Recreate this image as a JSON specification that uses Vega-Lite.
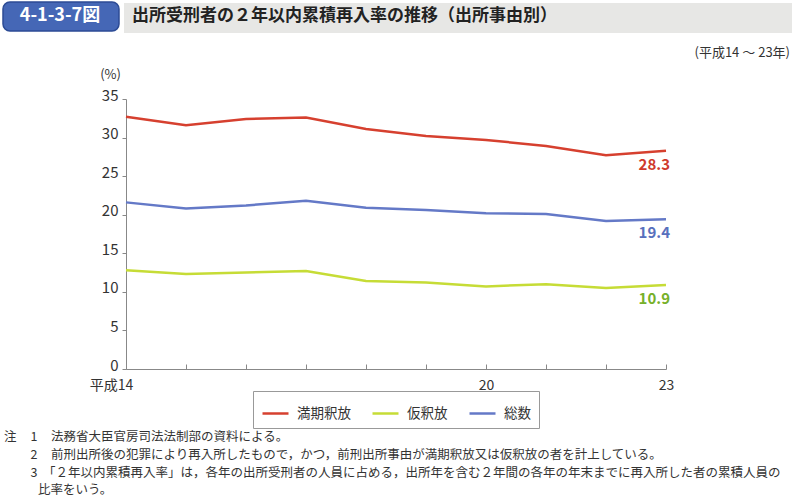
{
  "$schema": "https://vega.github.io/schema/vega-lite/v6.json",
  "width": 540,
  "height": 270,
  "autosize": {"type": "none"},
  "padding": {"left": 126, "top": 99, "right": 126, "bottom": 133},
  "background": "white",
  "config": {"font": "Noto Sans CJK JP", "view": {"stroke": null}},
  "data": {
    "values": [
      {"year": 14, "series": "満期釈放", "value": 32.7},
      {"year": 15, "series": "満期釈放", "value": 31.6},
      {"year": 16, "series": "満期釈放", "value": 32.4},
      {"year": 17, "series": "満期釈放", "value": 32.6},
      {"year": 18, "series": "満期釈放", "value": 31.1},
      {"year": 19, "series": "満期釈放", "value": 30.2},
      {"year": 20, "series": "満期釈放", "value": 29.7},
      {"year": 21, "series": "満期釈放", "value": 28.9},
      {"year": 22, "series": "満期釈放", "value": 27.7},
      {"year": 23, "series": "満期釈放", "value": 28.3},
      {"year": 14, "series": "仮釈放", "value": 12.8},
      {"year": 15, "series": "仮釈放", "value": 12.3},
      {"year": 16, "series": "仮釈放", "value": 12.5},
      {"year": 17, "series": "仮釈放", "value": 12.7},
      {"year": 18, "series": "仮釈放", "value": 11.4},
      {"year": 19, "series": "仮釈放", "value": 11.2},
      {"year": 20, "series": "仮釈放", "value": 10.7},
      {"year": 21, "series": "仮釈放", "value": 11.0},
      {"year": 22, "series": "仮釈放", "value": 10.5},
      {"year": 23, "series": "仮釈放", "value": 10.9},
      {"year": 14, "series": "総数", "value": 21.6},
      {"year": 15, "series": "総数", "value": 20.8},
      {"year": 16, "series": "総数", "value": 21.2},
      {"year": 17, "series": "総数", "value": 21.8},
      {"year": 18, "series": "総数", "value": 20.9},
      {"year": 19, "series": "総数", "value": 20.6},
      {"year": 20, "series": "総数", "value": 20.2},
      {"year": 21, "series": "総数", "value": 20.1},
      {"year": 22, "series": "総数", "value": 19.2},
      {"year": 23, "series": "総数", "value": 19.4}
    ]
  },
  "layer": [
    {
      "data": {"values": [{}]},
      "mark": {"type": "rect", "fill": "#e7e7e5"},
      "encoding": {"x": {"value": -2}, "x2": {"value": 666}, "y": {"value": -96}, "y2": {"value": -66}}
    },
    {
      "data": {"values": [{}]},
      "mark": {"type": "rect", "fill": "#4567b6", "stroke": "#2c4b95", "strokeWidth": 1.5, "cornerRadius": 7},
      "encoding": {"x": {"value": -123}, "x2": {"value": -7}, "y": {"value": -97}, "y2": {"value": -68}}
    },
    {
      "data": {"values": [{}]},
      "mark": {"type": "text", "text": "4-1-3-7図", "fill": "white", "fontSize": 18, "fontWeight": "bold", "align": "center", "baseline": "middle"},
      "encoding": {"x": {"value": -66}, "y": {"value": -83}}
    },
    {
      "data": {"values": [{}]},
      "mark": {"type": "text", "text": "出所受刑者の２年以内累積再入率の推移（出所事由別）", "fill": "#222", "fontSize": 17, "fontWeight": "bold", "align": "left", "baseline": "middle"},
      "encoding": {"x": {"value": 6}, "y": {"value": -83}}
    },
    {
      "data": {"values": [{}]},
      "mark": {"type": "text", "text": "(平成14 ～ 23年)", "fill": "#333", "fontSize": 13, "align": "right", "baseline": "middle"},
      "encoding": {"x": {"value": 664}, "y": {"value": -46}}
    },
    {
      "data": {"values": [{}]},
      "mark": {"type": "text", "text": "注", "fill": "#333", "fontSize": 12.5, "align": "left", "baseline": "middle"},
      "encoding": {"x": {"value": -122}, "y": {"value": 338}}
    },
    {
      "data": {"values": [{}]},
      "mark": {"type": "text", "text": "1", "fill": "#333", "fontSize": 12.5, "align": "center", "baseline": "middle"},
      "encoding": {"x": {"value": -92}, "y": {"value": 338}}
    },
    {
      "data": {"values": [{}]},
      "mark": {"type": "text", "text": "2", "fill": "#333", "fontSize": 12.5, "align": "center", "baseline": "middle"},
      "encoding": {"x": {"value": -92}, "y": {"value": 356}}
    },
    {
      "data": {"values": [{}]},
      "mark": {"type": "text", "text": "3", "fill": "#333", "fontSize": 12.5, "align": "center", "baseline": "middle"},
      "encoding": {"x": {"value": -92}, "y": {"value": 374}}
    },
    {
      "data": {"values": [{}]},
      "mark": {"type": "text", "text": "法務省大臣官房司法法制部の資料による。", "fill": "#333", "fontSize": 12.5, "align": "left", "baseline": "middle"},
      "encoding": {"x": {"value": -75}, "y": {"value": 338}}
    },
    {
      "data": {"values": [{}]},
      "mark": {"type": "text", "text": "前刑出所後の犯罪により再入所したもので，かつ，前刑出所事由が満期釈放又は仮釈放の者を計上している。", "fill": "#333", "fontSize": 12.5, "align": "left", "baseline": "middle"},
      "encoding": {"x": {"value": -75}, "y": {"value": 356}}
    },
    {
      "data": {"values": [{}]},
      "mark": {"type": "text", "text": "「２年以内累積再入率」は，各年の出所受刑者の人員に占める，出所年を含む２年間の各年の年末までに再入所した者の累積人員の", "fill": "#333", "fontSize": 12.5, "align": "left", "baseline": "middle"},
      "encoding": {"x": {"value": -83}, "y": {"value": 374}}
    },
    {
      "data": {"values": [{}]},
      "mark": {"type": "text", "text": "比率をいう。", "fill": "#333", "fontSize": 12.5, "align": "left", "baseline": "middle"},
      "encoding": {"x": {"value": -88}, "y": {"value": 391}}
    },
    {
      "encoding": {
        "x": {
          "field": "year", "type": "quantitative",
          "scale": {"domain": [14, 23], "nice": false, "zero": false},
          "axis": {
            "title": null, "grid": false, "format": "d",
            "values": [14, 15, 16, 17, 18, 19, 20, 21, 22, 23],
            "labelExpr": "datum.value == 14 ? '平成14' : ((datum.value == 20 || datum.value == 23) ? datum.label : '')",
            "labelOffset": {"condition": {"test": "datum.value == 14", "value": -15}, "value": 0},
            "tickSize": -5, "tickColor": "#888", "domainColor": "#888",
            "labelFontSize": 14, "labelColor": "#333", "labelPadding": 14, "labelFlush": false, "labelOverlap": false
          }
        },
        "y": {
          "field": "value", "type": "quantitative",
          "scale": {"domain": [0, 35], "nice": false},
          "axis": {
            "title": "(%)", "titleAngle": 0, "titleAlign": "center", "titleBaseline": "middle",
            "titleX": -16, "titleY": -25, "titleFontSize": 13, "titleFontWeight": "normal", "titleColor": "#333",
            "grid": false, "values": [0, 5, 10, 15, 20, 25, 30, 35], "labelOverlap": false, "labelFlush": false,
            "tickSize": 4, "tickColor": "#888", "domainColor": "#888",
            "labelFontSize": 15, "labelColor": "#333", "labelPadding": 4, "labelOffset": -4
          }
        }
      },
      "layer": [
        {
          "mark": {"type": "line", "strokeWidth": 2.5},
          "encoding": {
            "color": {
              "field": "series", "type": "nominal",
              "scale": {"domain": ["満期釈放", "仮釈放", "総数"], "range": ["#d6402f", "#c6dc36", "#6479c7"]},
              "legend": {
                "orient": "none", "legendX": 127, "legendY": 292, "direction": "horizontal", "title": null,
                "strokeColor": "#999", "fillColor": "white", "padding": 8,
                "symbolType": "stroke", "symbolStrokeWidth": 2.5, "symbolSize": 676,
                "labelFontSize": 13.5, "labelColor": "#333", "labelOffset": 7, "columnPadding": 16
              }
            }
          }
        },
        {
          "transform": [{"filter": "datum.year == 23"}],
          "mark": {"type": "text", "align": "right", "baseline": "middle", "dx": 4, "dy": 14, "fontSize": 15, "fontWeight": "bold"},
          "encoding": {
            "text": {"field": "value", "type": "quantitative", "format": ".1f"},
            "color": {
              "field": "series", "type": "nominal",
              "scale": {"domain": ["満期釈放", "仮釈放", "総数"], "range": ["#cf3a2c", "#76b02a", "#5870bd"]},
              "legend": null
            }
          }
        }
      ],
      "resolve": {"scale": {"color": "independent"}}
    }
  ],
  "resolve": {"scale": {"color": "independent"}}
}
